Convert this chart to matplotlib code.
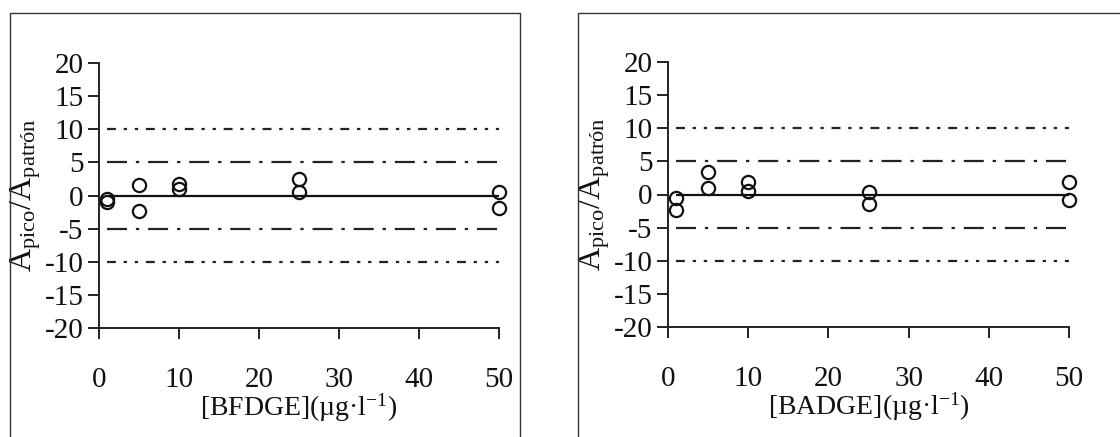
import matplotlib
matplotlib.use("Agg")
import matplotlib.pyplot as plt
from matplotlib.patches import Rectangle

plt.rcParams['font.family'] = ['Liberation Serif', 'DejaVu Serif']
plt.rcParams['mathtext.fontset'] = 'custom'
plt.rcParams['mathtext.rm'] = 'Liberation Serif'
plt.rcParams['mathtext.it'] = 'Liberation Serif:italic'
plt.rcParams['axes.unicode_minus'] = False

# Data
conc = [1, 1, 5, 5, 10, 10, 25, 25, 50, 50]
bfdge_vals = [-0.5, -1.0, 1.6, -2.35, 1.75, 1.0, 2.5, 0.6, 0.6, -1.9]
badge_vals = [-0.5, -2.4, 3.45, 1.0, 1.95, 0.6, 0.45, -1.4, 1.95, -0.9]
limit_x = [1, 50]
limits_5 = [5, -5]
limits_10 = [10, -10]
x_ticks = [0, 10, 20, 30, 40, 50]
y_ticks = [20, 15, 10, 5, 0, -5, -10, -15, -20]
panels = [("[BFDGE](µg·l$^{-1}$)", bfdge_vals), ("[BADGE](µg·l$^{-1}$)", badge_vals)]

W, H = 1120, 437
fig = plt.figure(figsize=(W / 100, H / 100), dpi=100)

axes_px = [(99, 63, 499, 328), (668, 62, 1069, 327)]
frames_px = [(10, 13, 520, 440), (578, 13, 1125, 440)]

for (xlabel, vals), (x0, y0, x1, y1), (fx0, fy0, fx1, fy1) in zip(panels, axes_px, frames_px):
    fig.add_artist(Rectangle((fx0 / W, 1 - fy1 / H), (fx1 - fx0) / W, (fy1 - fy0) / H,
                             transform=fig.transFigure, fill=False, edgecolor='#333333',
                             linewidth=1.0))
    ax = fig.add_axes([x0 / W, 1 - y1 / H, (x1 - x0) / W, (y1 - y0) / H])
    ax.set_xlim(0, 50)
    ax.set_ylim(-20, 20)
    for s in ['top', 'right']:
        ax.spines[s].set_visible(False)
    for s in ['left', 'bottom']:
        ax.spines[s].set_linewidth(1.4)
        ax.spines[s].set_color('#222222')
    ax.plot(limit_x, [0, 0], color='#111111', linewidth=1.6, solid_capstyle='butt')
    for v in limits_5:
        ax.plot(limit_x, [v, v], color='#222222', linewidth=1.6,
                linestyle=(0, (9, 4, 1.5, 4)))
    for v in limits_10:
        ax.plot(limit_x, [v, v], color='#222222', linewidth=1.6,
                linestyle=(0, (4, 3.5, 1.5, 3.5, 1.5, 3.5)))
    ax.plot(conc, vals, linestyle='none', marker='o', markersize=9.5,
            markerfacecolor='none', markeredgecolor='#111111', markeredgewidth=1.6,
            clip_on=False, zorder=5)
    ax.set_xticks(x_ticks)
    ax.set_yticks(y_ticks)
    ax.tick_params(axis='both', direction='out', length=8, width=1.4, color='#222222',
                   labelsize=21, labelcolor='#111111')
    ax.tick_params(axis='x', pad=20)
    ax.tick_params(axis='y', pad=3)
    ax.set_xlabel(xlabel, fontsize=20, labelpad=-1, color='#111111')
    ax.set_ylabel('A$_{\\mathrm{pico}}$/A$_{\\mathrm{patrón}}$', fontsize=23, color='#111111')
    ax.yaxis.set_label_coords(-0.14, 0.5)
    ax.patch.set_visible(False)

fig.savefig('out.png', dpi=100)
